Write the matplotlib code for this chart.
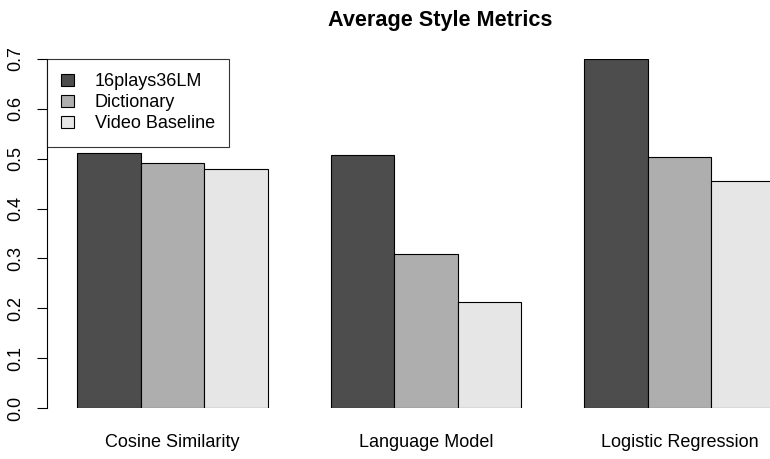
import matplotlib
matplotlib.use("Agg")
import matplotlib.pyplot as plt
import numpy as np
from matplotlib.patches import Patch

categories = ["Cosine Similarity", "Language Model", "Logistic Regression"]
series_names = ["16plays36LM", "Dictionary", "Video Baseline"]
vals_16plays = [0.511, 0.507, 0.700]
vals_dict = [0.491, 0.309, 0.503]
vals_video = [0.479, 0.213, 0.455]
colors = ["#4D4D4D", "#AEAEAE", "#E6E6E6"]
yticks = [0.0, 0.1, 0.2, 0.3, 0.4, 0.5, 0.6, 0.7]

plt.rcParams['font.family'] = ['Liberation Sans', 'DejaVu Sans']

W, H = 770, 459
fig = plt.figure(figsize=(W / 100, H / 100), dpi=100)
left_px, right_px = 47, 805
top_px, bottom_px = 59, 408
ax = fig.add_axes([left_px / W, 1 - bottom_px / H, (right_px - left_px) / W, (bottom_px - top_px) / H])

series = [vals_16plays, vals_dict, vals_video]
for si, vals in enumerate(series):
    xs = [1 + gi * 4 + si for gi in range(len(categories))]
    ax.bar(xs, vals, width=1.0, align='edge', color=colors[si], edgecolor='black', linewidth=0.8)

FS = 13
ax.set_xlim(0.52, 12.48)
ax.set_ylim(0, 0.7)
for s in ['top', 'right', 'bottom']:
    ax.spines[s].set_visible(False)
ax.spines['left'].set_bounds(0, 0.7)
ax.set_yticks(yticks)
ax.set_yticklabels([f"{v:.1f}" for v in yticks], rotation=90, va='center', fontsize=FS)
ax.tick_params(axis='y', length=7.5, width=0.8, pad=9)
ax.set_xticks([2.5 + 4 * i for i in range(len(categories))])
ax.set_xticklabels(categories, fontsize=FS)
ax.tick_params(axis='x', length=0, pad=19)
ax.set_title("Average Style Metrics", fontsize=15.6, fontweight='bold', pad=24,
             x=(440 - left_px) / (right_px - left_px))

handles = [Patch(facecolor=c, edgecolor='black', linewidth=0.8) for c in colors]
leg = ax.legend(handles, series_names, loc='upper left', bbox_to_anchor=(0, 1), fontsize=FS,
                frameon=True, fancybox=False, edgecolor='black', borderaxespad=0,
                handlelength=0.7, handleheight=0.7, handletextpad=1.15, labelspacing=0.22,
                borderpad=0.8)
leg.get_frame().set_linewidth(0.8)

fig.savefig("out.png", dpi=100)
